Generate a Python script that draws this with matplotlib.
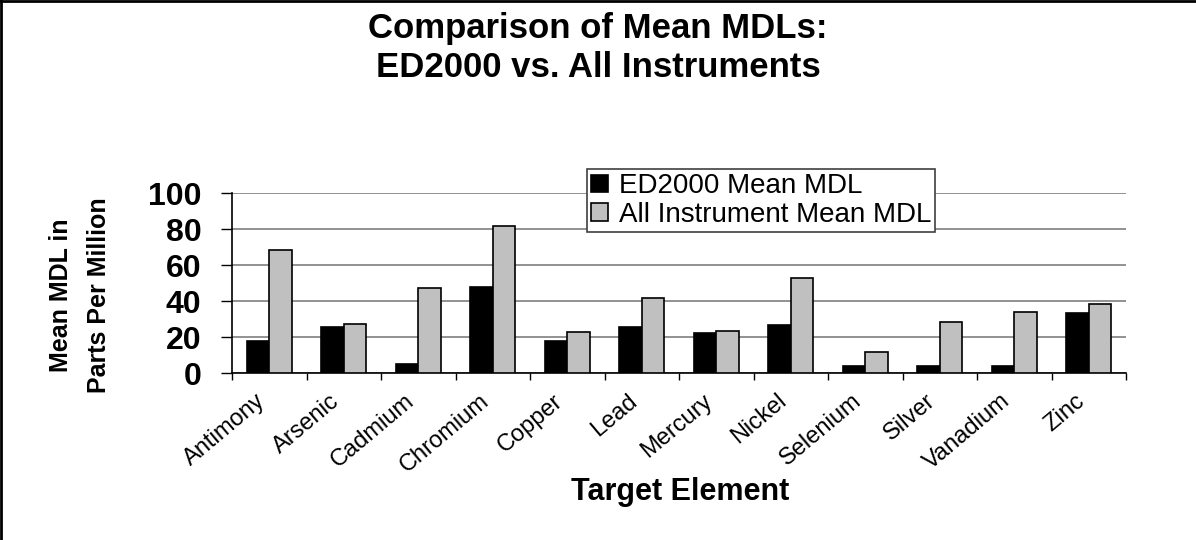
import numpy as np
import matplotlib
matplotlib.use("Agg")
import matplotlib.pyplot as plt
import matplotlib.transforms as mtransforms
from matplotlib.lines import Line2D

plt.rcParams['font.family'] = ['Liberation Sans', 'DejaVu Sans']

# data
elements = ["Antimony", "Arsenic", "Cadmium", "Chromium", "Copper", "Lead",
            "Mercury", "Nickel", "Selenium", "Silver", "Vanadium", "Zinc"]
ed2000 = [17.8, 25.6, 5.4, 48.1, 17.8, 25.6, 22.6, 26.7, 3.9, 3.9, 3.9, 33.7]
all_inst = [68.7, 27.2, 47.2, 81.9, 23.0, 41.9, 23.7, 52.8, 12.0, 28.5, 34.1, 38.3]
yticks = [0, 20, 40, 60, 80, 100]

W, H = 1196, 540
fig = plt.figure(figsize=(W / 100, H / 100), dpi=100)
ax = fig.add_axes([232 / W, 1 - 373.3 / H, (1126 - 232) / W, (373.3 - 193.3) / H])

x = np.arange(len(elements))
bw = 0.3
ax.bar(x - bw / 2, ed2000, bw, color="black", edgecolor="black", linewidth=1.2,
       label="ED2000 Mean MDL", zorder=3)
ax.bar(x + bw / 2, all_inst, bw, color="#C0C0C0", edgecolor="black", linewidth=1.2,
       label="All Instrument Mean MDL", zorder=3)

ax.set_xlim(-0.5, len(elements) - 0.5)
ax.set_ylim(0, 100)
ax.set_yticks(yticks)
ax.set_yticklabels([str(v) for v in yticks], fontsize=23, fontweight="bold")
ax.tick_params(axis="y", direction="out", length=8, width=1, pad=14)

ax.set_xticks(x)
ax.set_xticklabels(elements, fontsize=17, rotation=40, ha="right",
                   rotation_mode="anchor")
ax.tick_params(axis="x", which="major", length=0, pad=12)
shift = mtransforms.ScaledTranslation(-14 / 100, 0, fig.dpi_scale_trans)
for lab in ax.get_xticklabels():
    lab.set_transform(lab.get_transform() + shift)
ax.set_xticks(np.arange(-0.5, len(elements)), minor=True)
ax.tick_params(axis="x", which="minor", direction="out", length=5, width=1)

ax.yaxis.grid(True, color="#7f7f7f", linewidth=1.2, zorder=0)
ax.set_axisbelow(True)
for s in ["top", "right"]:
    ax.spines[s].set_visible(False)
ax.spines["left"].set_linewidth(1.2)
ax.spines["bottom"].set_linewidth(1.2)

leg = ax.legend(loc="upper left", bbox_to_anchor=(586.7 / W, 1 - 169 / H),
                bbox_transform=fig.transFigure, fontsize=20, frameon=True,
                fancybox=False, handlelength=0.6, handleheight=0.6,
                handletextpad=0.4, borderpad=0.15, labelspacing=0.1,
                borderaxespad=0)
leg.get_frame().set_edgecolor("#404040")
leg.get_frame().set_linewidth(1.2)
leg.get_frame().set_alpha(1)

fig.text(0.5, 1 - 48 / H, "Comparison of Mean MDLs:\nED2000 vs. All Instruments",
         ha="center", va="center", fontsize=25, fontweight="bold", linespacing=1.25)
fig.text(80 / W, 1 - 295 / H, "Mean MDL in\nParts Per Million", rotation=90,
         ha="center", va="center", fontsize=18, fontweight="bold", linespacing=1.75)
fig.text(680 / W, 1 - 492 / H, "Target Element", ha="center", va="center",
         fontsize=22, fontweight="bold")

# outer border (left and top edges visible in the reference)
fig.add_artist(Line2D([0.001, 0.001], [0, 1], color="black", linewidth=2,
                      transform=fig.transFigure))
fig.add_artist(Line2D([0, 1], [0.998, 0.998], color="black", linewidth=2,
                      transform=fig.transFigure))

fig.savefig("out.png", dpi=100)
